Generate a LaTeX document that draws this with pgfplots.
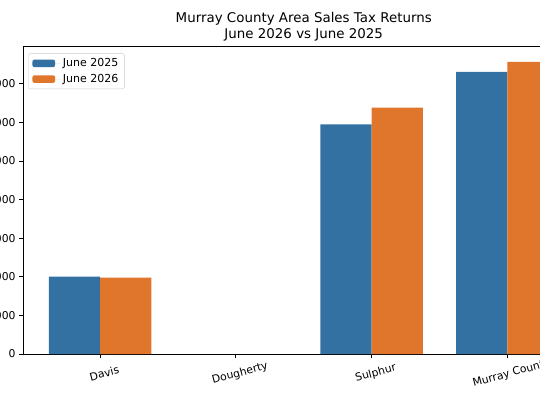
\documentclass[border=0pt]{standalone}
\usepackage{pgfplots}
\pgfplotsset{compat=1.18}
\usepackage{fontspec}
\setmainfont{DejaVu Sans}
\definecolor{cblue}{HTML}{3371A3}
\definecolor{corange}{HTML}{E0752C}
\begin{document}
\begin{tikzpicture}[x=1pt,y=1pt]
\clip (0,0) rectangle (540,407);
\begin{axis}[
  at={(23pt,53pt)}, anchor=south west,
  scale only axis, width=561.5pt, height=308pt,
  xmin=-0.568, xmax=3.568, ymin=0, ymax=798000,
  scaled y ticks=false,
  xtick={0,1,2,3},
  xticklabels={Davis,Dougherty,Sulphur,Murray County},
  ytick={0,100000,200000,300000,400000,500000,600000,700000},
  yticklabels={0,100000,200000,300000,400000,500000,600000,700000},
  tick align=outside, tick pos=left,
  major tick length=3.9pt,
  tick style={black, line width=0.8pt},
  axis line style={line width=0.8pt},
  ticklabel style={font=\fontsize{10.8}{13}\selectfont},
  xticklabel style={rotate=15, anchor=center, yshift=-16pt},
  title={Murray County Area Sales Tax Returns\\June 2026 vs June 2025},
  title style={align=center, font=\fontsize{13.4}{15.8}\selectfont, yshift=-5pt},
  legend style={at={(0.0094,0.976)}, anchor=north west,
    draw=black!20, rounded corners=2pt, fill=white, fill opacity=0.8, draw opacity=1, text opacity=1,
    font=\fontsize{11}{13}\selectfont, row sep=2pt, inner xsep=4pt, inner ysep=3pt},
  legend cell align=left,
]
\addplot[ybar, bar width=0.378, bar shift=-0.189, fill=cblue, draw=none,
  legend image code/.code={\fill[cblue, fill opacity=1] (0pt,-3.8pt) rectangle (22.6pt,3.8pt); \path (0pt,0pt) -- (28.5pt,0pt);}]
  coordinates {(0,200300) (2,595000) (3,731000)};
\addlegendentry{June 2025}
\addplot[ybar, bar width=0.378, bar shift=0.189, fill=corange, draw=none,
  legend image code/.code={\fill[corange, fill opacity=1] (0pt,-3.8pt) rectangle (22.6pt,3.8pt); \path (0pt,0pt) -- (28.5pt,0pt);}]
  coordinates {(0,197700) (2,638000) (3,757000)};
\addlegendentry{June 2026}
\end{axis}
\end{tikzpicture}
\end{document}
